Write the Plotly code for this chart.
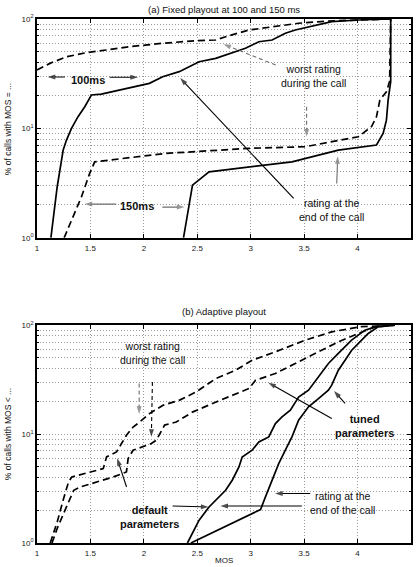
import plotly.graph_objects as go
from plotly.subplots import make_subplots

# ---------------- (a) fixed playout: MOS vs % of calls ----------------
fix100_end_mos = [1.130, 1.189, 1.245, 1.276, 1.323, 1.384, 1.447, 1.509, 1.602, 1.773,
                  1.959, 2.052, 2.176, 2.331, 2.517, 2.672, 2.951, 3.076, 3.2, 3.324,
                  3.417, 3.634, 3.758, 4.007, 4.31]
fix100_end_pct = [1, 2.93, 6.34, 7.82, 10, 12.8, 15.8, 20.2, 20.6, 22.4,
                  24.9, 25.8, 29.7, 33, 40.7, 43.7, 54, 62, 64.3, 74,
                  79.3, 88.1, 94.5, 97.9, 100]

fix100_worst_mos = [1.0, 1.121, 1.276, 1.462, 1.648, 1.865, 2.176, 2.486, 2.672, 2.766,
                    2.983, 3.138, 3.324, 3.448, 3.727, 4.31]
fix100_worst_pct = [34.2, 39.3, 45.2, 49.2, 52.1, 55.8, 60, 63.3, 64.3, 68.9,
                    79.3, 83.2, 88.1, 91.4, 95.9, 100]

fix150_end_mos = [2.371, 2.455, 2.61, 3.386, 3.82, 4.177, 4.239, 4.27, 4.286, 4.31, 4.31]
fix150_end_pct = [1, 3.03, 4.01, 4.95, 6.34, 7.05, 9.0, 11.9, 18.2, 26.7, 100]

fix150_worst_mos = [1.254, 1.416, 1.493, 1.54, 2.207, 2.983, 3.51, 4.007, 4.131, 4.177,
                    4.209, 4.27, 4.30, 4.31]
fix150_worst_pct = [1, 2.37, 3.88, 4.95, 5.91, 6.57, 6.8, 8.39, 10.4, 12.8,
                    18.2, 21.6, 27, 100]

# ---------------- (b) adaptive playout ----------------
adp_def_worst_mos = [1.124, 1.189, 1.249, 1.295, 1.326, 1.465, 1.62, 1.651, 1.744, 1.791,
                     1.837, 1.899, 1.961, 2.055, 2.179, 2.334, 2.489, 2.676, 2.859, 3.014,
                     3.231, 3.51, 3.758, 4.03, 4.35]
adp_def_worst_pct = [1, 1.56, 2.56, 3.63, 4.04, 4.4, 4.82, 6.17, 6.86, 8.19,
                     9.76, 11.6, 12.9, 15.5, 18.4, 20.5, 24.4, 32.4, 38.6, 47.7,
                     56.9, 72.8, 86.8, 97, 100]

adp_tun_worst_mos = [1.14, 1.189, 1.282, 1.344, 1.406, 1.561, 1.714, 1.837, 1.853, 1.899,
                     2.07, 2.117, 2.163, 2.194, 2.303, 2.459, 2.676, 2.83, 2.983, 3.045,
                     3.231, 3.417, 3.603, 3.82, 4.007, 4.162, 4.35]
adp_tun_worst_pct = [1, 1.36, 2.22, 3.05, 3.27, 3.63, 4.04, 4.49, 5.96, 7.1,
                     8.19, 8.79, 10.8, 12.1, 12.9, 16, 19.7, 22.7, 26.2, 31.2,
                     36, 44.5, 55, 70.3, 83.9, 96.4, 100]

adp_def_end_mos = [2.408, 2.517, 2.61, 2.765, 2.827, 2.89, 2.92, 3.013, 3.076, 3.169,
                   3.231, 3.293, 3.371, 3.448, 3.541, 3.634, 3.727, 3.82, 3.944, 4.069,
                   4.193, 4.35]
adp_def_end_pct = [1, 1.62, 2.14, 3.05, 3.77, 4.99, 6.17, 7.11, 8.47, 9.42,
                   12.5, 14.4, 16.6, 21.9, 25.3, 33.5, 44.5, 55, 72.8, 90,
                   98.5, 100]

adp_tun_end_mos = [2.44, 3.092, 3.138, 3.2, 3.262, 3.324, 3.386, 3.448, 3.541, 3.634,
                   3.727, 3.758, 3.82, 3.883, 3.945, 4.038, 4.1, 4.193, 4.35]
adp_tun_end_pct = [1, 2.03, 2.65, 3.77, 5.36, 7.11, 9.42, 13.4, 17.8, 21.2,
                   25.3, 28.1, 38.6, 47.7, 58.9, 72.8, 83.9, 96.4, 100]

x_ticks = [1, 1.5, 2, 2.5, 3, 3.5, 4, 4.5]
x_tick_text = ["1", "1.5", "2", "2.5", "3", "3.5", "4", "4.5"]
y_ticks = [1, 10, 100]
y_tick_text = ["10<sup>0</sup>", "10<sup>1</sup>", "10<sup>2</sup>"]
y_minor_ticks = [2, 3, 4, 5, 6, 7, 8, 9, 20, 30, 40, 50, 60, 70, 80, 90]

FONT = "Liberation Sans, Arial, sans-serif"
BLACK = "#000000"
GRAY = "#6e6e6e"
DASH = "7px,4px"
GRID = "#9a9a9a"
GRID_DASH = "1px,2px"

fig = make_subplots(rows=2, cols=1, vertical_spacing=0.0)

def curve(xs, ys, row, dashed):
    fig.add_trace(go.Scatter(
        x=xs, y=ys, mode="lines", showlegend=False, hoverinfo="skip",
        line=dict(color=BLACK, width=1.7, dash=DASH if dashed else "solid"),
    ), row=row, col=1)

curve(fix100_worst_mos, fix100_worst_pct, 1, True)
curve(fix100_end_mos, fix100_end_pct, 1, False)
curve(fix150_worst_mos, fix150_worst_pct, 1, True)
curve(fix150_end_mos, fix150_end_pct, 1, False)

curve(adp_def_worst_mos, adp_def_worst_pct, 2, True)
curve(adp_tun_worst_mos, adp_tun_worst_pct, 2, True)
curve(adp_def_end_mos, adp_def_end_pct, 2, False)
curve(adp_tun_end_mos, adp_tun_end_pct, 2, False)

annotations = []

def arrow(axis, tail, head, color=BLACK, dashed=False):
    """Pointer line from tail to head, (MOS, log10 %), with an arrow tip."""
    fig.add_trace(go.Scatter(
        x=[tail[0], head[0]], y=[10 ** tail[1], 10 ** head[1]],
        mode="lines+markers", showlegend=False, hoverinfo="skip",
        line=dict(color=color, width=1.1, dash="4px,3px" if dashed else "solid"),
        marker=dict(symbol=["circle", "arrow"], size=[0, 8], angleref="previous",
                    color=color, line=dict(width=0)),
    ), row=axis, col=1)

def label(axis, x, y, text, size=10.5):
    xr, yr = ("x", "y") if axis == 1 else ("x2", "y2")
    annotations.append(dict(
        xref=xr, yref=yr, x=x, y=y, text=text, showarrow=False,
        font=dict(family=FONT, size=size, color="#111"), align="center",
    ))

# panel (a) annotations
label(1, 1.475, 1.442, "<b>100ms</b>", 11)
arrow(1, (1.261, 1.47), (1.10, 1.47))
arrow(1, (1.68, 1.467), (1.945, 1.467))
label(1, 1.94, 0.29, "<b>150ms</b>", 11)
arrow(1, (1.742, 0.308), (1.445, 0.308), GRAY)
arrow(1, (2.173, 0.281), (2.38, 0.281), GRAY)
label(1, 3.588, 1.479, "worst rating<br>during the call")
arrow(1, (3.234, 1.579), (2.745, 1.77), GRAY, dashed=True)
arrow(1, (3.523, 1.198), (3.523, 0.925), GRAY, dashed=True)
label(1, 3.755, 0.252, "rating at the<br>end of the call")
arrow(1, (3.402, 0.36), (2.34, 1.46))
arrow(1, (3.805, 0.497), (3.814, 0.745), GRAY)

# panel (b) annotations
label(2, 2.08, 1.743, "worst rating<br>during the call")
arrow(2, (1.956, 1.464), (1.956, 1.185), GRAY, dashed=True)
arrow(2, (2.08, 1.479), (2.07, 0.975), BLACK, dashed=True)
label(2, 2.052, 0.239, "<b>default<br>parameters</b>", 11)
arrow(2, (1.838, 0.514), (1.75, 0.778))
arrow(2, (2.269, 0.34), (2.605, 0.331))
label(2, 4.062, 1.072, "<b>tuned<br>parameters</b>", 11)
arrow(2, (3.758, 1.143), (3.165, 1.472))
arrow(2, (3.883, 1.281), (3.78, 1.395))
label(2, 3.858, 0.365, "rating at the<br>end of the call")
arrow(2, (3.557, 0.454), (3.228, 0.454))
arrow(2, (3.479, 0.34), (2.716, 0.34))

# titles and axis labels
def paper_text(x, y, text, size, angle=0):
    annotations.append(dict(
        xref="paper", yref="paper", x=x, y=y, text=text, showarrow=False,
        textangle=angle, xanchor="center", yanchor="middle",
        font=dict(family=FONT, size=size, color="#111"),
    ))

paper_text(0.5, 1.018, "(a) Fixed playout at 100 and 150 ms", 9.5)
paper_text(0.5, 0.441, "(b) Adaptive playout", 9.5)
paper_text(0.5, -0.034, "MOS", 8)
paper_text(-0.077, 0.79, "% of calls with MOS = ...", 8.5, -90)
paper_text(-0.077, 0.208, "% of calls with MOS < ...", 8.5, -90)

common_axis = dict(
    showline=True, linecolor=BLACK, linewidth=1.6, mirror="allticks",
    ticks="inside", ticklen=4, tickcolor=BLACK, tickwidth=1,
    showgrid=True, gridcolor=GRID, gridwidth=1, griddash=GRID_DASH,
    zeroline=False, tickfont=dict(family=FONT, size=8, color="#222"),
)

for ax in ("xaxis", "xaxis2"):
    fig.layout[ax].update(common_axis, range=[1, 4.5], tickvals=x_ticks,
                          ticktext=x_tick_text, ticklabelstandoff=2)
for ax in ("yaxis", "yaxis2"):
    fig.layout[ax].update(common_axis, type="log", range=[0, 2], tickvals=y_ticks,
                          ticktext=y_tick_text,
                          minor=dict(tickmode="array", tickvals=y_minor_ticks,
                                     ticks="inside", ticklen=2, tickcolor=BLACK,
                                     showgrid=True, gridcolor=GRID,
                                     griddash=GRID_DASH, gridwidth=1))

fig.layout.yaxis.domain = [0.5824, 1.0]
fig.layout.yaxis2.domain = [0.0, 0.4157]

fig.update_layout(
    width=417, height=567,
    margin=dict(l=37, r=4, t=19, b=24),
    plot_bgcolor="white", paper_bgcolor="white",
    annotations=annotations,
    font=dict(family=FONT),
)

fig.write_html("out.html")
